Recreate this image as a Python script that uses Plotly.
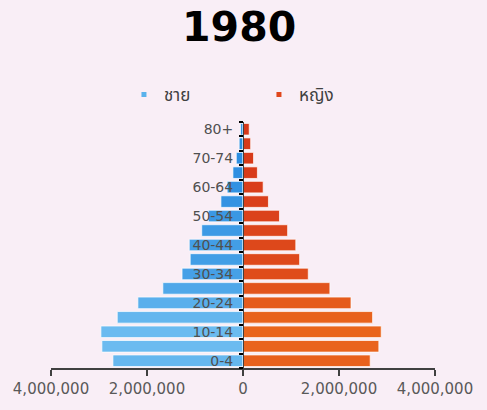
import plotly.graph_objects as go

# Thailand population by five-year age group, 1980
age_groups = ["0-4", "5-9", "10-14", "15-19", "20-24", "25-29", "30-34", "35-39",
              "40-44", "45-49", "50-54", "55-59", "60-64", "65-69", "70-74", "75-79", "80+"]
male = [2710000, 2940000, 2960000, 2620000, 2190000, 1670000, 1270000, 1100000,
        1120000, 860000, 720000, 460000, 330000, 210000, 140000, 80000, 50000]
female = [2650000, 2830000, 2880000, 2700000, 2250000, 1810000, 1360000, 1180000,
          1100000, 930000, 760000, 530000, 420000, 300000, 220000, 160000, 130000]

x_tick_values = [-4000000, -2000000, 0, 2000000, 4000000]
x_tick_labels = ["4,000,000", "2,000,000", "0", "2,000,000", "4,000,000"]

male_name = "ชาย"
female_name = "หญิง"
title_text = "1980"

positions = list(range(len(age_groups)))
label_font = "DejaVu Sans, Noto Sans Thai, Loma, sans-serif"
ink = "#404040"
bg = "#f9eef6"

fig = go.Figure()

# male bars extend to the left of the centre axis
fig.add_trace(go.Bar(
    y=positions, x=[-v for v in male], orientation="h",
    name=male_name, showlegend=False,
    marker=dict(color=male, colorscale=[[0, "#2a8ce0"], [1, "#6cbcf0"]],
                cmin=0, cmax=3000000,
                line=dict(color="rgba(255,255,255,0.7)", width=1)),
    customdata=[[a, f"{v:,}"] for a, v in zip(age_groups, male)],
    hovertemplate="%{customdata[0]}: %{customdata[1]}<extra>" + male_name + "</extra>",
))
# female bars extend to the right
fig.add_trace(go.Bar(
    y=positions, x=female, orientation="h",
    name=female_name, showlegend=False,
    marker=dict(color=female, colorscale=[[0, "#d6361a"], [1, "#ea671d"]],
                cmin=0, cmax=3000000,
                line=dict(color="rgba(255,255,255,0.7)", width=1)),
    customdata=[[a, f"{v:,}"] for a, v in zip(age_groups, female)],
    hovertemplate="%{customdata[0]}: %{customdata[1]}<extra>" + female_name + "</extra>",
))

# small square legend keys
for nm, col in [(male_name, "#5ab2ec"), (female_name, "#e0461b")]:
    fig.add_trace(go.Scatter(
        x=[None], y=[None], mode="markers", name=nm,
        marker=dict(symbol="square", size=5, color=col),
    ))

fig.update_layout(
    width=487, height=410,
    margin=dict(l=51, r=52, t=122, b=36),
    paper_bgcolor=bg, plot_bgcolor=bg,
    barmode="overlay", bargap=0.2,
    title=dict(text="<b>" + title_text + "</b>", x=0.49, xanchor="center",
               xref="paper", y=0.935, yanchor="middle", yref="container",
               font=dict(family="DejaVu Sans, sans-serif", size=41, color="#000000")),
    legend=dict(orientation="h", x=0.19, xanchor="left", y=1.11, yanchor="middle",
                font=dict(family=label_font, size=17, color=ink),
                entrywidth=90, entrywidthmode="pixels",
                bgcolor="rgba(0,0,0,0)", itemclick=False),
    xaxis=dict(range=[-4000000, 4000000], tickvals=x_tick_values, ticktext=x_tick_labels,
               showline=True, linecolor=ink, linewidth=1.5, ticks="outside", ticklen=6,
               tickcolor=ink, tickwidth=1.5, showgrid=False, zeroline=False,
               tickfont=dict(family=label_font, size=15, color="#595959")),
    yaxis=dict(range=[-0.5, len(age_groups) - 0.5], anchor="free", position=0.5,
               tickvals=positions[::2], ticktext=age_groups[::2], ticks="",
               ticklabelstandoff=7,
               showline=True, linecolor=ink, linewidth=1, showgrid=False, zeroline=False,
               tickfont=dict(family=label_font, size=14, color="#505050"),
               minor=dict(tick0=0.5, dtick=1, ticks="outside", ticklen=4,
                          tickcolor="#000000", tickwidth=1.5, showgrid=False)),
)

fig.write_html("out.html")
